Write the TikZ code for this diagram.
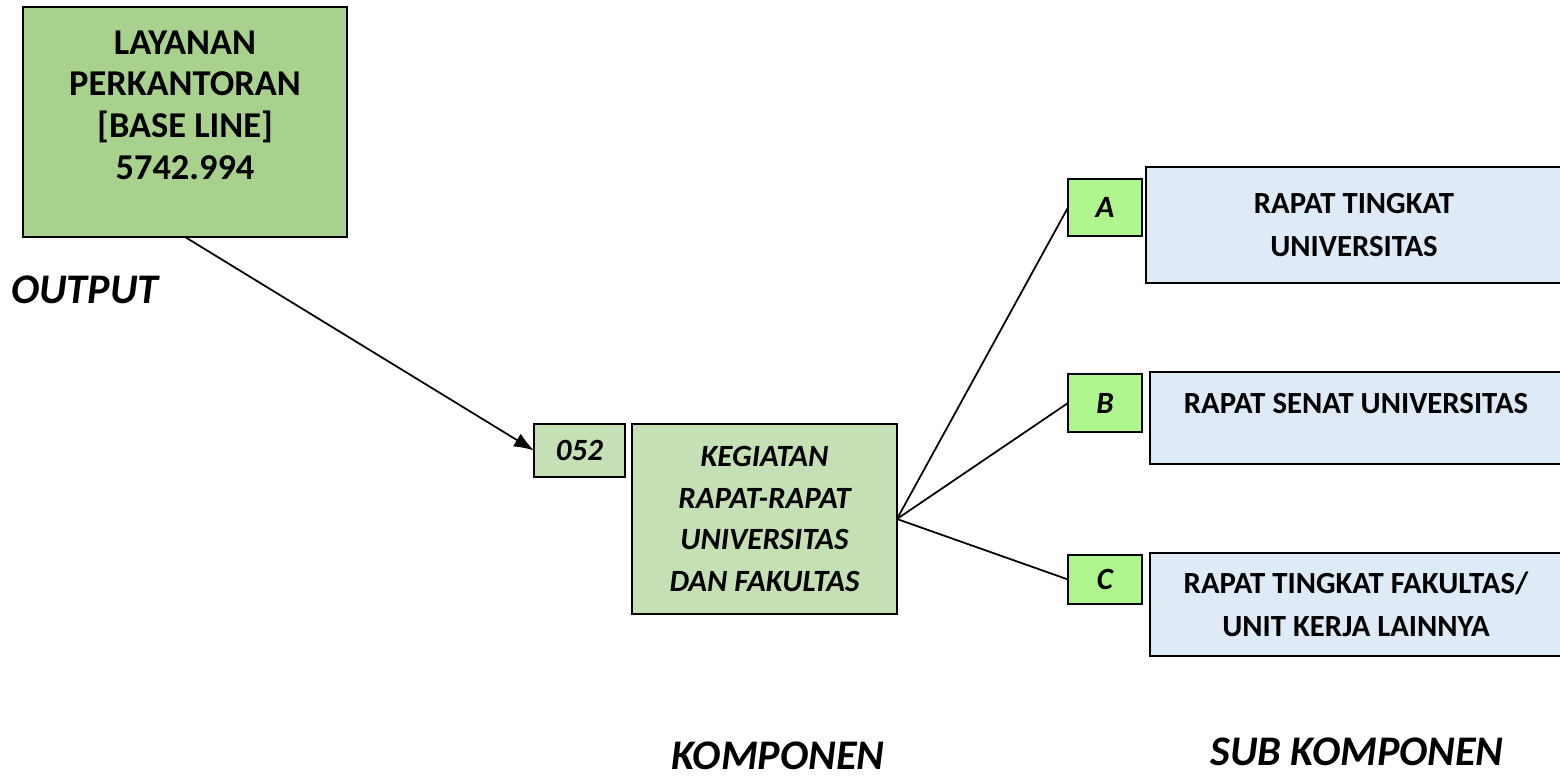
\documentclass[tikz,border=0pt]{standalone}
\usepackage{fontspec}
\setmainfont{Carlito}
\usetikzlibrary{arrows.meta}
\definecolor{outgreen}{HTML}{A9D18E}
\definecolor{kompgreen}{HTML}{C5E0B4}
\definecolor{codegreen}{HTML}{AFF58E}
\definecolor{subblue}{HTML}{DEEBF7}
\tikzset{
	box/.style={draw=black, line width=1pt, inner sep=0pt, outer sep=0pt, align=center},
	outbox/.style={box, fill=outgreen, minimum width=6.48cm, minimum height=4.6cm,
		font=\fontsize{20.7pt}{23.8pt}\selectfont\bfseries},
	kompbox/.style={box, fill=kompgreen, font=\fontsize{17.6pt}{23.6pt}\selectfont\bfseries\itshape},
	codebox/.style={box, fill=codegreen, minimum width=1.48cm,
		font=\fontsize{17.6pt}{21.5pt}\selectfont\bfseries\itshape},
	subbox/.style={box, fill=subblue, minimum width=8.24cm,
		font=\fontsize{17.5pt}{24.4pt}\selectfont\bfseries},
	caption/.style={inner sep=0pt, font=\fontsize{24pt}{28pt}\selectfont\bfseries\itshape}
}
\begin{document}
\begin{tikzpicture}[x=0.02cm, y=-0.02cm]
		\useasboundingbox (0,0) rectangle (1560,781);
		
		\node[outbox] (output) at (185,122) {LAYANAN\\PERKANTORAN\\{[BASE LINE]}\\5742.994\\[-4.5pt]{}};
		\node[caption] (outputlbl) at (85,290) {OUTPUT};
		
		\node[kompbox, minimum width=1.82cm, minimum height=1.06cm] (kode) at (579.5,450.5) {052};
		\node[kompbox, minimum width=5.3cm, minimum height=3.8cm] (kegiatan) at (764.5,519)
			{KEGIATAN\\RAPAT-RAPAT\\UNIVERSITAS\\DAN FAKULTAS};
		\node[caption] (komplbl) at (778,756) {KOMPONEN};
		
		\node[codebox, minimum height=1.14cm] (subA) at (1105,207.5) {A};
		\node[codebox, minimum height=1.16cm] (subB) at (1105,403) {B};
		\node[codebox, minimum height=0.98cm] (subC) at (1105,579.5) {C};
		
		\node[subbox, minimum width=8.32cm, minimum height=2.32cm] (rapatA) at (1354,225)
			{RAPAT TINGKAT\\UNIVERSITAS};
		\node[subbox, minimum height=1.84cm] (rapatB) at (1356,418)
			{RAPAT SENAT UNIVERSITAS\\[-7.4pt]{}};
		\node[subbox, minimum height=2.06cm] (rapatC) at (1356,604.5)
			{RAPAT TINGKAT FAKULTAS/\\UNIT KERJA LAINNYA};
		\node[caption] (sublbl) at (1357,752) {SUB KOMPONEN};
		
		\draw[line width=1pt, -{Latex[length=4mm, width=3mm]}] (output.south) -- (kode.west);
		\draw[line width=1pt] (kegiatan.east) -- (subA.west);
		\draw[line width=1pt] (kegiatan.east) -- (subB.west);
		\draw[line width=1pt] (kegiatan.east) -- (subC.west);
		
	\end{tikzpicture}
\end{document}
